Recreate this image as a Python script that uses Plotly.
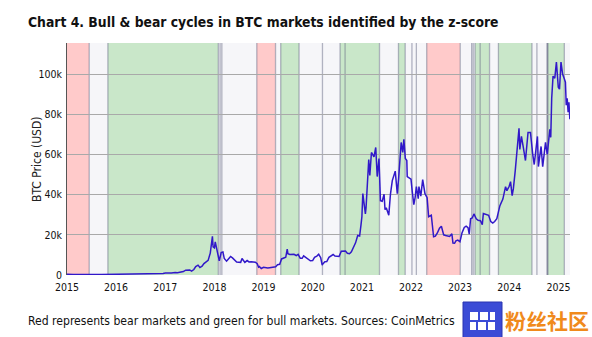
import plotly.graph_objects as go

# ---------------- data ----------------
dates = [
    "2015-01-01", "2015-01-15", "2015-02-01", "2015-02-15", "2015-03-01", "2015-03-15",
    "2015-04-01", "2015-04-15", "2015-05-01", "2015-05-15", "2015-06-01", "2015-06-15",
    "2015-07-01", "2015-07-15", "2015-08-01", "2015-08-15", "2015-09-01", "2015-09-15",
    "2015-10-01", "2015-10-15", "2015-11-01", "2015-11-04", "2015-11-15", "2015-12-01",
    "2015-12-15",
    "2016-01-01", "2016-01-15", "2016-02-01", "2016-02-15", "2016-03-01", "2016-03-15",
    "2016-04-01", "2016-04-15", "2016-05-01", "2016-05-15", "2016-06-01", "2016-06-15",
    "2016-07-01", "2016-07-15", "2016-08-01", "2016-08-15", "2016-09-01", "2016-09-15",
    "2016-10-01", "2016-10-15", "2016-11-01", "2016-11-15", "2016-12-01", "2016-12-15",
    "2017-01-01", "2017-01-15", "2017-02-01", "2017-02-15", "2017-03-01", "2017-03-15",
    "2017-04-01", "2017-04-15", "2017-05-01", "2017-05-15", "2017-06-01", "2017-06-15",
    "2017-07-01", "2017-07-15", "2017-08-01", "2017-08-15", "2017-09-01", "2017-09-15",
    "2017-10-01", "2017-10-15", "2017-11-01", "2017-11-15", "2017-12-01", "2017-12-08",
    "2017-12-17", "2017-12-22",
    "2018-01-01", "2018-01-07", "2018-01-15", "2018-02-01", "2018-02-06", "2018-02-20",
    "2018-03-05", "2018-03-15", "2018-04-01", "2018-04-15", "2018-05-01", "2018-05-15",
    "2018-06-01", "2018-06-15", "2018-07-01", "2018-07-15", "2018-07-25", "2018-08-15",
    "2018-09-01", "2018-09-15", "2018-10-01", "2018-10-15", "2018-11-01", "2018-11-15",
    "2018-11-25", "2018-12-01", "2018-12-15",
    "2019-01-01", "2019-01-15", "2019-02-01", "2019-02-15", "2019-03-01", "2019-03-15",
    "2019-04-01", "2019-04-15", "2019-05-01", "2019-05-15", "2019-06-01", "2019-06-15",
    "2019-06-26", "2019-07-01", "2019-07-15", "2019-08-01", "2019-08-15", "2019-09-01",
    "2019-09-15", "2019-10-01", "2019-10-15", "2019-10-26", "2019-11-01", "2019-11-15",
    "2019-12-01", "2019-12-15",
    "2020-01-01", "2020-01-15", "2020-02-01", "2020-02-15", "2020-03-01", "2020-03-12",
    "2020-03-15", "2020-04-01", "2020-04-15", "2020-05-01", "2020-05-15", "2020-06-01",
    "2020-06-15", "2020-07-01", "2020-07-15", "2020-08-01", "2020-08-15", "2020-09-01",
    "2020-09-15", "2020-10-01", "2020-10-15", "2020-11-01", "2020-11-15", "2020-12-01",
    "2020-12-15", "2020-12-25",
    "2021-01-01", "2021-01-08", "2021-01-15", "2021-01-27", "2021-02-01", "2021-02-15",
    "2021-02-21", "2021-03-01", "2021-03-13", "2021-04-01", "2021-04-14", "2021-04-25",
    "2021-05-08", "2021-05-19", "2021-06-01", "2021-06-15", "2021-06-22", "2021-07-01",
    "2021-07-20", "2021-08-01", "2021-08-15", "2021-09-06", "2021-09-21", "2021-10-01",
    "2021-10-20", "2021-11-01", "2021-11-09", "2021-11-20", "2021-12-01", "2021-12-04",
    "2021-12-15",
    "2022-01-01", "2022-01-10", "2022-01-22", "2022-02-01", "2022-02-10", "2022-02-24",
    "2022-03-01", "2022-03-15", "2022-03-29", "2022-04-15", "2022-05-01", "2022-05-12",
    "2022-06-01", "2022-06-18", "2022-07-01", "2022-07-15", "2022-08-01", "2022-08-15",
    "2022-09-01", "2022-09-15", "2022-10-01", "2022-10-15", "2022-11-01", "2022-11-09",
    "2022-11-21", "2022-12-01", "2022-12-15", "2022-12-31",
    "2023-01-15", "2023-02-01", "2023-02-15", "2023-03-01", "2023-03-10", "2023-03-20",
    "2023-04-01", "2023-04-14", "2023-05-01", "2023-05-15", "2023-06-01", "2023-06-15",
    "2023-06-23", "2023-07-15", "2023-08-01", "2023-08-17", "2023-09-01", "2023-09-15",
    "2023-10-01", "2023-10-24", "2023-11-15", "2023-12-05", "2023-12-15",
    "2024-01-01", "2024-01-11", "2024-01-23", "2024-02-01", "2024-02-15", "2024-03-01",
    "2024-03-14", "2024-03-20", "2024-04-01", "2024-04-15", "2024-05-01", "2024-05-20",
    "2024-06-07", "2024-06-24", "2024-07-05", "2024-07-29", "2024-08-05", "2024-08-25",
    "2024-09-06", "2024-09-27", "2024-10-10", "2024-10-29", "2024-11-05", "2024-11-12",
    "2024-11-22", "2024-12-05", "2024-12-17", "2024-12-31",
    "2025-01-09", "2025-01-20", "2025-02-01", "2025-02-15", "2025-02-22", "2025-02-28",
    "2025-03-03", "2025-03-07", "2025-03-14", "2025-03-20", "2025-03-27",
]

btc_price = [
    315, 210, 225, 235, 260, 285, 245, 220, 235, 237, 225, 235,
    258, 285, 280, 260, 228, 230, 237, 255, 325, 400, 330, 360, 450,
    430, 375, 370, 400, 435, 415, 417, 430, 450, 455, 535, 690,
    675, 665, 605, 570, 575, 610, 615, 640, 730, 710, 755, 780,
    1000, 820, 980, 1010, 1190, 1240, 1080, 1180, 1420, 1730, 2400, 2450,
    2500, 1930, 2730, 4200, 4900, 3700, 4400, 5700, 6700, 7300, 10900, 16000,
    19300, 14000,
    13500, 16500, 13500, 9100, 7000, 11200, 11500, 8200, 6900, 8000, 9200, 8500,
    7500, 6500, 6400, 6300, 8200, 6300, 7200, 6500, 6600, 6400, 6350, 5600,
    3900, 4200, 3250,
    3800, 3600, 3450, 3600, 3800, 3900, 4100, 5100, 5300, 8000, 8500, 8800,
    12900, 10600, 10200, 10400, 10300, 9700, 10300, 8300, 8300, 9500, 9200, 8500,
    7400, 7100,
    7200, 8800, 9400, 10300, 8600, 4900, 5400, 6600, 6700, 8800, 9300, 10200,
    9400, 9200, 9200, 11800, 11800, 11900, 10800, 10600, 11500, 13800, 16000, 19700,
    19400, 24700,
    29000, 40500, 36800, 30400, 33500, 48000, 57500, 49600, 61000, 58800, 63500, 49000,
    58000, 37000, 36700, 40200, 32500, 33500, 29800, 40000, 47000, 51700, 40500, 48000,
    66000, 61000, 67500, 58000, 57000, 49000, 48500,
    47700, 41800, 35000, 38700, 44000, 38000, 44000, 39300, 47500, 40500, 38500, 29000,
    29800, 19000, 19300, 20800, 23300, 24300, 20000, 19700, 19300, 19200, 20500, 15900,
    15800, 17000, 17400, 16550,
    20900, 23700, 24300, 23600, 20300, 28000, 28400, 30400, 28000, 27200, 27000, 25100,
    30600, 30300, 29700, 26600, 25900, 26600, 28000, 34500, 37800, 44000, 42000,
    44200, 46500, 39500, 43000, 52000, 62500, 73000, 62500, 69000, 63500, 57000, 71000,
    71000, 60000, 55000, 69000, 54000, 64000, 53900, 66000, 60000, 72500, 68500, 88000,
    99000, 98000, 106000, 93500,
    92500, 106000, 100000, 97500, 96000, 84500, 86000, 88000, 81000, 86000, 77500,
]

# market regimes identified by the z-score
band_start = [
    "2015-01-01", "2015-06-15", "2015-11-01", "2018-01-30", "2018-11-12", "2019-03-31",
    "2019-05-09", "2019-09-22", "2020-07-23", "2021-05-12", "2021-09-30", "2021-11-19",
    "2022-04-28", "2023-01-02", "2023-04-22", "2023-08-08", "2023-10-13", "2024-06-18",
    "2024-10-14", "2025-02-14",
]
band_end = [
    "2015-06-15", "2015-11-01", "2018-01-30", "2018-11-12", "2019-03-31", "2019-05-09",
    "2019-09-22", "2020-07-23", "2021-05-12", "2021-09-30", "2021-11-19", "2022-04-28",
    "2023-01-02", "2023-04-22", "2023-08-08", "2023-10-13", "2024-06-18", "2024-10-14",
    "2025-02-14", "2025-03-28",
]
band_regime = [
    "bear", "neutral", "bull", "neutral", "bear", "neutral",
    "bull", "neutral", "bull", "neutral", "bull", "neutral",
    "bear", "neutral", "bull", "neutral", "bull", "neutral",
    "bull", "neutral",
]

# z-score signal change points (drawn as thin vertical rules)
signal_changes = [
    "2015-06-15", "2015-11-01", "2018-01-30", "2018-02-12", "2018-02-25", "2018-11-12",
    "2019-03-31", "2019-05-09", "2019-09-22", "2020-03-14", "2020-07-23", "2020-08-29",
    "2021-05-12", "2021-09-30", "2021-11-19", "2022-01-08", "2022-02-10", "2022-04-28",
    "2023-01-02", "2023-03-28", "2023-04-08", "2023-04-22", "2023-05-30", "2023-08-08",
    "2023-10-13", "2024-06-18", "2024-07-25", "2024-10-08", "2024-10-12", "2024-10-14",
    "2025-02-14",
]

y_ticks = [0, 20000, 40000, 60000, 80000, 100000]
y_tick_labels = ["0", "20k", "40k", "60k", "80k", "100k"]
x_ticks = [f"{y}-01-01" for y in range(2015, 2026)]
x_tick_labels = [str(y) for y in range(2015, 2026)]

title_text = "Chart 4. Bull & bear cycles in BTC markets identified by the z-score"
caption_text = "Red represents bear markets and green for bull markets. Sources: CoinMetrics"
badge_text = "粉丝社区"

# ---------------- styling ----------------
W, H = 592, 337
M_L, M_R, M_T, M_B = 67, 22, 43, 62
PLOT_W = W - M_L - M_R
PLOT_H = H - M_T - M_B

NARROW = "DejaVu Sans Condensed, Liberation Sans Narrow, DejaVu Sans, sans-serif"
REGIME_COLORS = {"bear": "#ffcaca", "bull": "#c9e7c9", "neutral": "#f6f6f9"}


def px_x(x):
    return (x - M_L) / PLOT_W


def px_y(y):
    return (H - M_B - y) / PLOT_H


fig = go.Figure()

fig.add_trace(go.Scatter(
    x=dates, y=btc_price, mode="lines",
    line=dict(color="#3118c9", width=1.5),
    hoverinfo="x+y", showlegend=False,
))

shapes = []
for s, e, r in zip(band_start, band_end, band_regime):
    shapes.append(dict(type="rect", xref="x", yref="paper", x0=s, x1=e, y0=0, y1=1,
                       fillcolor=REGIME_COLORS[r], line=dict(width=0), layer="below"))
for d in signal_changes:
    shapes.append(dict(type="line", xref="x", yref="paper", x0=d, x1=d, y0=0, y1=1,
                       line=dict(color="rgba(105,110,135,0.5)", width=1.3), layer="below"))

# badge in the lower right corner
bx0, bx1, by0, by1 = 463, 502, 302, 346
shapes.append(dict(type="rect", xref="paper", yref="paper",
                   x0=px_x(bx0), x1=px_x(bx1), y0=px_y(by1), y1=px_y(by0),
                   fillcolor="#3b4bd6", line=dict(color="#2a35b0", width=1), layer="above"))
for (cx0, cy0, cx1, cy1) in [(470, 312, 478, 320), (480, 312, 488, 320), (490, 312, 495, 320),
                             (470, 322, 476, 330), (478, 322, 486, 330), (488, 322, 495, 330)]:
    shapes.append(dict(type="rect", xref="paper", yref="paper",
                       x0=px_x(cx0), x1=px_x(cx1), y0=px_y(cy1), y1=px_y(cy0),
                       fillcolor="white", line=dict(width=0), layer="above"))

annotations = [
    dict(text=title_text, xref="paper", yref="paper", x=px_x(26), y=px_y(22),
         xanchor="left", yanchor="middle", showarrow=False,
         font=dict(family=NARROW, size=13.8, color="#111111", weight="bold")),
    dict(text=caption_text, xref="paper", yref="paper", x=px_x(26), y=px_y(321),
         xanchor="left", yanchor="middle", showarrow=False,
         font=dict(family=NARROW, size=12.1, color="#111111")),
    dict(text="BTC Price (USD)", xref="paper", yref="paper", x=px_x(37), y=0.5,
         xanchor="center", yanchor="middle", textangle=-90, showarrow=False,
         font=dict(family=NARROW, size=12, color="#222222")),
    dict(text=badge_text, xref="paper", yref="paper", x=px_x(503), y=px_y(320),
         xanchor="left", yanchor="middle", showarrow=False,
         font=dict(family="Noto Sans CJK SC", size=21, color="#f08a1c", weight="bold")),
]

fig.update_layout(
    width=W, height=H,
    margin=dict(l=M_L, r=M_R, t=M_T, b=M_B, pad=0),
    paper_bgcolor="white", plot_bgcolor="white",
    shapes=shapes, annotations=annotations,
    xaxis=dict(type="date", range=["2015-01-01", "2025-03-28"],
               tickvals=x_ticks, ticktext=x_tick_labels,
               showgrid=False, zeroline=False, showline=False, ticks="",
               ticklabelstandoff=4,
               tickfont=dict(family=NARROW, size=10.5, color="#111111")),
    yaxis=dict(range=[0, 115500], tickvals=y_ticks, ticktext=y_tick_labels,
               showgrid=True, gridcolor="#a9a9a9", gridwidth=1, zeroline=False,
               showline=True, linecolor="#555555", linewidth=1, ticks="",
               ticklabelstandoff=2,
               tickfont=dict(family=NARROW, size=10.5, color="#111111")),
    hovermode=False,
)

fig.write_html("out.html")
